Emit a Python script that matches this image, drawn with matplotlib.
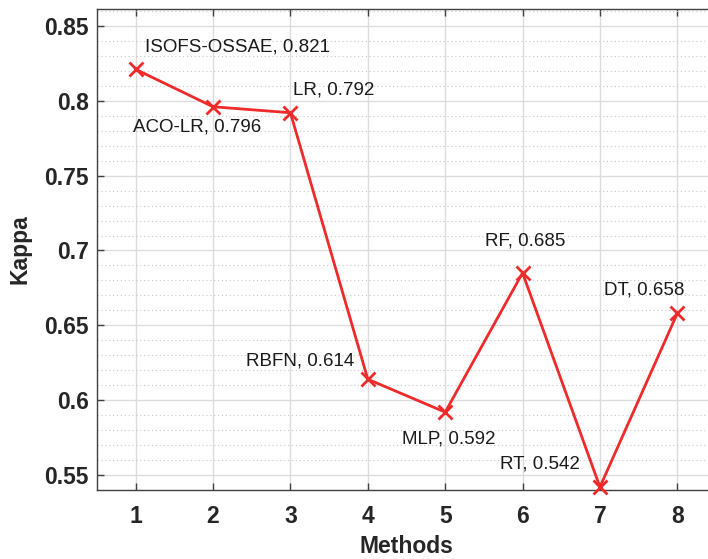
import matplotlib
matplotlib.use("Agg")
import matplotlib.pyplot as plt
from matplotlib.ticker import MultipleLocator

methods_idx = [1, 2, 3, 4, 5, 6, 7, 8]
names = ["ISOFS-OSSAE", "ACO-LR", "LR", "RBFN", "MLP", "RF", "RT", "DT"]
kappa = [0.821, 0.796, 0.792, 0.614, 0.592, 0.685, 0.542, 0.658]

# label offsets in pixels (dx, dy) and alignment
offsets = [(9, 22, "left"), (-16, -20, "center"), (3, 23, "left"), (-14, 18, "right"),
           (4, -27, "center"), (3, 32, "center"), (-20, 23, "right"), (-33, 23, "center")]

plt.rcParams['font.family'] = ['Liberation Sans', 'DejaVu Sans']

fig = plt.figure(figsize=(7.08, 5.59), dpi=100)
ax = fig.add_axes([97/708, 69/559, (716-97)/708, (490-9)/559])

ax.plot(methods_idx, kappa, color='#EE2A2A', lw=2.0, marker='x', ms=10, mew=2.0,
        clip_on=False, zorder=5)

for x, y, n, (dx, dy, ha) in zip(methods_idx, kappa, names, offsets):
    ax.annotate(f"{n}, {y}", (x, y), xytext=(dx, dy), textcoords='offset pixels',
                ha=ha, va='center', fontsize=13.5, color='#1a1a1a')

ax.set_xlim(0.5, 8.5)
ax.set_ylim(0.54, 0.8613)
ax.set_xticks(methods_idx)
ax.yaxis.set_major_locator(MultipleLocator(0.05))
ax.yaxis.set_minor_locator(MultipleLocator(0.01))
ax.set_yticks([0.55, 0.6, 0.65, 0.7, 0.75, 0.8, 0.85])
ax.set_yticklabels(["0.55", "0.6", "0.65", "0.7", "0.75", "0.8", "0.85"])

ax.grid(True, which='major', color='#dcdcdc', lw=1.0, ls='-')
ax.grid(True, which='minor', axis='y', color='#c8c8c8', lw=0.8, ls=(0, (1, 2.5)))
ax.set_axisbelow(True)

ax.tick_params(which='major', direction='in', top=True, right=True, length=5,
               width=1.0, color='#404040', labelsize=16.5)
ax.tick_params(which='minor', length=0)
ax.tick_params(axis='x', pad=11)
ax.tick_params(axis='y', pad=6)
for lbl in ax.get_xticklabels() + ax.get_yticklabels():
    lbl.set_fontweight('bold')
    lbl.set_color('#262626')
for s in ax.spines.values():
    s.set_color('#404040')
    s.set_linewidth(1.0)

ax.set_xlabel("Methods", fontsize=16.5, fontweight='bold', color='#262626', labelpad=5)
ax.set_ylabel("Kappa", fontsize=16.5, fontweight='bold', color='#262626', labelpad=9)

fig.savefig("out.png", dpi=100)
